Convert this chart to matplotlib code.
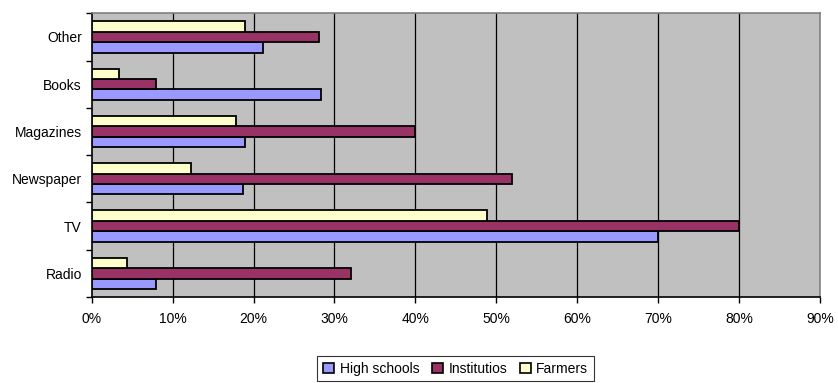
import matplotlib
matplotlib.use("Agg")
import matplotlib.pyplot as plt
import numpy as np
from matplotlib.patches import Patch
from matplotlib.ticker import FixedLocator, NullFormatter

categories = ["Radio", "TV", "Newspaper", "Magazines", "Books", "Other"]
high_schools = [7.9, 70.0, 18.7, 19.0, 28.3, 21.2]
institutios = [32.0, 80.0, 52.0, 40.0, 7.9, 28.1]
farmers = [4.4, 48.8, 12.3, 17.8, 3.4, 19.0]
series_names = ["High schools", "Institutios", "Farmers"]
series_colors = ["#9999FF", "#993366", "#FFFFCC"]
x_ticks = [0, 10, 20, 30, 40, 50, 60, 70, 80, 90]

plt.rcParams["font.family"] = ["Liberation Sans", "DejaVu Sans"]

fig = plt.figure(figsize=(8.38, 3.83), dpi=100)
ax = fig.add_axes([0.1094, 0.2245, 0.8691, 0.7408])
ax.set_facecolor("#C0C0C0")

y = np.arange(len(categories))
h = 0.22
for vals, off, col in zip([high_schools, institutios, farmers], [-h, 0, h], series_colors):
    ax.barh(y + off, vals, height=h, color=col, edgecolor="black", linewidth=1.3, zorder=3)

ax.set_xlim(0, 90)
ax.set_ylim(-0.5, len(categories) - 0.5)
ax.set_xticks(x_ticks)
ax.set_xticklabels([f"{t}%" for t in x_ticks], fontsize=10)
for t in x_ticks[1:-1]:
    ax.axvline(t, color="black", linewidth=0.9, zorder=1)

# category labels centred, tick marks on the category boundaries
ax.yaxis.set_major_locator(FixedLocator(np.arange(-0.5, len(categories), 1.0)))
ax.yaxis.set_major_formatter(NullFormatter())
ax.yaxis.set_minor_locator(FixedLocator(y))
ax.set_yticklabels(categories, minor=True, fontsize=10)
ax.tick_params(axis="y", which="minor", length=0, pad=7)
ax.tick_params(axis="y", which="major", length=4, width=1, direction="out")
ax.tick_params(axis="x", length=4, width=1, direction="out", pad=7)

ax.spines["left"].set_color("black")
ax.spines["bottom"].set_color("black")
ax.spines["top"].set_color("#808080")
ax.spines["right"].set_color("#808080")
for s in ax.spines.values():
    s.set_linewidth(1.2)

handles = [Patch(facecolor=c, edgecolor="black", linewidth=1.2) for c in series_colors]
leg = fig.legend(handles, series_names, loc="center", bbox_to_anchor=(0.5436, 0.037),
                 ncol=3, fontsize=10, frameon=True, fancybox=False,
                 handlelength=0.8, handleheight=0.8, handletextpad=0.4,
                 columnspacing=0.9, borderpad=0.4, borderaxespad=0)
leg.get_frame().set_edgecolor("black")
leg.get_frame().set_linewidth(0.8)

fig.savefig("out.png", dpi=100)
